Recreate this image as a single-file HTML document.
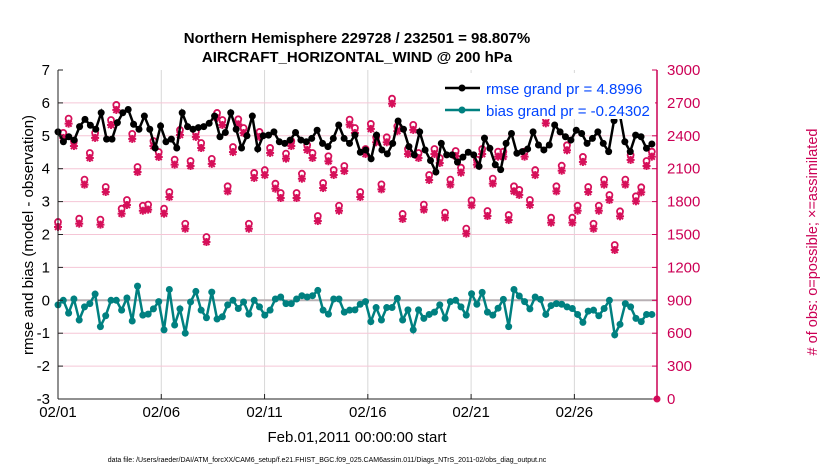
<!DOCTYPE html>
<html><head><meta charset="utf-8"><style>
body{margin:0;background:#fff;}
svg{display:block;font-family:"Liberation Sans",sans-serif;}
</style></head><body>
<svg id="chart" width="830" height="470" viewBox="0 0 830 470" xmlns="http://www.w3.org/2000/svg">
<rect width="830" height="470" fill="#fff"/>
<g id="grid"></g>
<g id="marks"></g>
<g id="axes"></g>
<text x="357" y="43" text-anchor="middle" font-size="15" font-weight="bold">Northern Hemisphere 229728 / 232501 = 98.807%</text>
<text x="357" y="62" text-anchor="middle" font-size="15" font-weight="bold">AIRCRAFT_HORIZONTAL_WIND @ 200 hPa</text>
<text transform="translate(33,235) rotate(-90)" text-anchor="middle" font-size="15">rmse and bias (model - observation)</text>
<text transform="translate(817,242) rotate(-90)" text-anchor="middle" font-size="14.5" fill="#cc0055"># of obs: o=possible; ×=assimilated</text>
<text x="357" y="442" text-anchor="middle" font-size="15">Feb.01,2011 00:00:00 start</text>
<text x="327" y="462" text-anchor="middle" font-size="7">data file: /Users/raeder/DAI/ATM_forcXX/CAM6_setup/f.e21.FHIST_BGC.f09_025.CAM6assim.011/Diags_NTrS_2011-02/obs_diag_output.nc</text>
<g>
<rect x="440" y="73" width="215" height="46" fill="#fff"/>
<line x1="445" y1="88" x2="480" y2="88" stroke="#000" stroke-width="2.5"/>
<circle cx="462" cy="88" r="3.5" fill="#000"/>
<text x="486" y="94" font-size="15" fill="#0044ff">rmse grand pr = 4.8996</text>
<line x1="445" y1="110" x2="480" y2="110" stroke="#008080" stroke-width="2.5"/>
<circle cx="462" cy="110" r="3.5" fill="#008080"/>
<text x="486" y="116" font-size="15" fill="#0044ff">bias grand pr = -0.24302</text>
</g>
</svg>
<script>
const xTickLabels = ["02/01","02/06","02/11","02/16","02/21","02/26"];
const xTickDays = [0,5,10,15,20,25];
const yTicks = [-3,-2,-1,0,1,2,3,4,5,6,7];
const y2Ticks = [0,300,600,900,1200,1500,1800,2100,2400,2700,3000];
const rmse = [5.12,4.82,4.97,4.87,5.28,5.5,5.32,5.2,5.7,4.9,4.9,5.4,5.7,5.8,5.35,5.2,5.6,5.2,4.63,5.3,4.82,4.9,4.63,5.7,5.28,5.2,5.25,5.28,5.38,5.6,4.97,5.1,5.7,5.2,4.63,5.0,5.6,4.6,5.0,
5.02,5.12,4.82,4.77,4.87,5.1,4.87,4.82,4.92,5.17,4.77,4.67,4.92,5.33,4.92,4.77,5.02,4.5,4.57,4.3,5.02,4.57,4.45,4.77,5.45,5.2,4.67,4.42,5.12,4.57,4.25,3.9,4.77,4.42,4.42,4.2,4.35,4.5,
4.42,4.07,4.93,4.62,4.12,3.97,4.77,5.07,4.47,4.52,4.6,5.12,4.72,4.57,4.72,5.33,5.12,4.97,4.87,5.17,5.07,4.77,4.92,5.12,4.77,4.52,5.46,5.73,4.82,4.52,5.02,4.97,4.62,4.75];
const bias = [-0.14,0,-0.39,0.04,-0.6,-0.2,-0.1,0.19,-0.8,-0.47,0,0,-0.3,0.07,-0.63,0.43,-0.45,-0.42,-0.26,-0.04,-0.9,0.33,-0.75,-0.26,-1.0,-0.05,0.27,-0.3,-0.53,0.25,-0.57,-0.5,-0.14,0,-0.25,-0.05,-0.42,0,-0.2,-0.45,-0.3,0.04,0.1,-0.1,-0.1,0.04,0.14,0.1,0.14,0.3,-0.3,-0.42,0.04,0.04,-0.36,-0.3,
-0.29,-0.12,-0.04,-0.65,-0.22,-0.6,-0.22,-0.22,0.06,-0.6,-0.29,-0.9,-0.29,-0.55,-0.43,-0.36,-0.14,-0.55,-0.04,0,-0.2,-0.45,0.2,-0.12,0.24,-0.36,-0.45,-0.24,0.03,-0.8,0.33,0.13,-0.04,-0.26,0.1,0.03,-0.43,-0.16,-0.1,-0.12,-0.2,-0.25,-0.43,-0.67,-0.33,-0.3,-0.47,-0.25,0,-1.05,-0.73,-0.1,-0.2,-0.55,-0.65,-0.43,-0.43];
const assimilated = [1587,2399,2529,2325,1617,1973,2216,2399,1608,1906,2517,2654,1708,1787,2390,2088,1735,1745,2325,2225,1708,1860,2155,2426,1571,2143,2408,2307,1450,2162,2581,2517,1912,2270,2523,2444,1571,2034,2408,
2060,2262,1936,1851,2210,2325,1851,2027,2289,2216,1641,1942,2186,2061,1735,2097,2520,2444,1860,2252,2481,2359,1930,2359,2711,2460,1660,2252,2472,2216,1745,2015,2252,2170,1672,1973,2234,2082,1526,1784,
2155,2252,1687,1982,2228,2228,1650,1912,1879,2228,1787,2060,2608,2532,1626,1912,2100,2286,1626,1735,2180,1906,1571,1735,1973,1833,1377,1684,1973,2198,1821,1903,2143,2228];
const possible = assimilated.slice();
const endDay = 29, endCount = 0;

const NS="http://www.w3.org/2000/svg";
const X0=58,X1=657,Y0=70,Y1=399;
const xS=d=>X0+(d/29)*(X1-X0);
const yS=v=>Y1-(v+3)/10*(Y1-Y0);
const y2S=c=>Y1-c/3000*(Y1-Y0);
const tOf=(i,n)=>i*28.75/(n-1);
function mk(tag,attrs,parent){const e=document.createElementNS(NS,tag);for(const k in attrs)e.setAttribute(k,attrs[k]);parent.appendChild(e);return e;}
const grid=document.getElementById('grid'),marks=document.getElementById('marks'),axes=document.getElementById('axes');
mk('rect',{x:X0,y:Y0,width:X1-X0,height:Y1-Y0,fill:'#fff'},grid);
xTickDays.forEach(d=>{if(d>0){const l=mk('line',{x1:xS(d),x2:xS(d),y1:Y0,y2:Y1,stroke:'#d8d8d8','stroke-width':1},grid);}});
yTicks.forEach(v=>{if(v>-3&&v<7&&v!==0){const l=mk('line',{x1:X0,x2:X1,y1:yS(v),y2:yS(v),stroke:'#f5c6d6','stroke-width':1},grid);}});
const z=mk('line',{x1:X0,x2:X1,y1:yS(0),y2:yS(0),stroke:'#b8b0b4','stroke-width':2},grid);

function star(cx,cy,parent){const g=mk('g',{},parent);
 mk('line',{x1:cx-4,x2:cx+4,y1:cy,y2:cy,stroke:'#d6105a','stroke-width':2},g);mk('line',{x1:cx,x2:cx,y1:cy-4,y2:cy+4,stroke:'#d6105a','stroke-width':2},g);
 mk('line',{x1:cx-3,x2:cx+3,y1:cy-3,y2:cy+3,stroke:'#d6105a','stroke-width':2},g);mk('line',{x1:cx-3,x2:cx+3,y1:cy+3,y2:cy-3,stroke:'#d6105a','stroke-width':2},g);}
possible.forEach((c,i)=>{const e=mk('circle',{cx:xS(tOf(i,possible.length)),cy:y2S(c)-3,r:3,fill:'none',stroke:'#d6105a','stroke-width':1.8},marks);});
assimilated.forEach((c,i)=>star(xS(tOf(i,assimilated.length)),y2S(c)+2,marks));
const ed=mk('circle',{cx:xS(endDay),cy:y2S(endCount),r:3.5,fill:'#d6105a'},marks);

function series(arr,color,name){const pts=arr.map((v,i)=>xS(tOf(i,arr.length)).toFixed(1)+','+yS(v).toFixed(1)).join(' ');
 const p=mk('polyline',{points:pts,fill:'none',stroke:color,'stroke-width':2.5},marks);
 arr.forEach((v,i)=>{const c=mk('circle',{cx:xS(tOf(i,arr.length)),cy:yS(v),r:3.5,fill:color},marks);});}
series(rmse,'#000','rmse');
series(bias,'#008080','bias');
mk('line',{x1:X0,x2:X0,y1:Y0,y2:Y1,stroke:'#222','stroke-width':1},axes);
mk('line',{x1:X1,x2:X1,y1:Y0,y2:Y1,stroke:'#cc0055','stroke-width':1.5},axes);
mk('line',{x1:X0,x2:X1,y1:Y1,y2:Y1,stroke:'#222','stroke-width':1},axes);
yTicks.forEach(v=>{mk('line',{x1:X0,x2:X0+5,y1:yS(v),y2:yS(v),stroke:'#222'},axes);
 const t=mk('text',{x:X0-8,y:yS(v)+5,'text-anchor':'end','font-size':15},axes);t.textContent=v;});
y2Ticks.forEach(c=>{mk('line',{x1:X1-5,x2:X1,y1:y2S(c),y2:y2S(c),stroke:'#cc0055'},axes);
 const t=mk('text',{x:X1+10,y:y2S(c)+5,'font-size':15,fill:'#cc0055'},axes);t.textContent=c;});
xTickDays.forEach((d,i)=>{mk('line',{x1:xS(d),x2:xS(d),y1:Y1,y2:Y1-5,stroke:'#222'},axes);
 const t=mk('text',{x:xS(d),y:Y1+18,'text-anchor':'middle','font-size':15},axes);t.textContent=xTickLabels[i];});
</script>
</body></html>
